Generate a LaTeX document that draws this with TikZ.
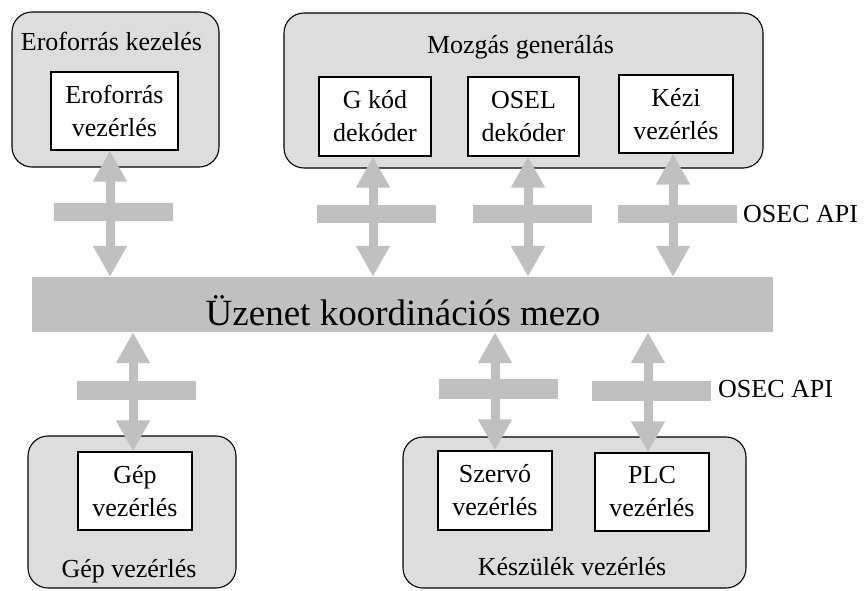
\documentclass[tikz,border=0pt]{standalone}
\usepackage{fontspec}
\setmainfont{Liberation Serif}
\usetikzlibrary{arrows.meta}
\definecolor{busgray}{HTML}{C0C0C0}
\definecolor{boxgray}{HTML}{DDDDDD}
\begin{document}
\begin{tikzpicture}[x=1pt,y=-1pt,
  txt/.style={font=\fontsize{26}{33}\selectfont},
  group/.style={draw=black,line width=1.1pt,fill=boxgray,rounded corners=20pt,inner sep=0pt},
  unit/.style={draw=black,line width=1.3pt,fill=white,inner sep=0pt,align=center,txt},
  bus/.style={fill=busgray,inner sep=0pt,font=\fontsize{37}{44}\selectfont},
  apibar/.style={fill=busgray,inner sep=0pt,minimum width=119pt,minimum height=18pt},
  flow/.style={draw=busgray,line width=9pt,
    {Triangle[width=32pt,length=31pt]}-{Triangle[width=32pt,length=31pt]}},
  lbl/.style={txt,inner sep=0pt}]
\useasboundingbox (0,0) rectangle (866,590);

% outer groups
\node[group,minimum width=207pt,minimum height=155pt] (gEro) at (115.5,89.5) {};
\node[group,minimum width=479pt,minimum height=155pt] (gMoz) at (523.5,90.5) {};
\node[group,minimum width=208pt,minimum height=152pt] (gGep) at (132,512) {};
\node[group,minimum width=343pt,minimum height=151pt] (gKesz) at (574.5,512.5) {};

\node[lbl,anchor=base] (tEro) at (111.5,50) {Eroforrás kezelés};
\node[lbl,anchor=base] (tMoz) at (520.5,53) {Mozgás generálás};
\node[lbl,anchor=base] (tGep) at (129,577) {Gép vezérlés};
\node[lbl,anchor=base] (tKesz) at (572,575) {Készülék vezérlés};

% message bus
\node[bus,minimum width=741pt,minimum height=55pt] (bus) at (402.5,304.5) {};
\node[bus,fill=none,anchor=base] (busText) at (403,325) {Üzenet koordinációs mezo};

% functional units
\node[unit,minimum width=127pt,minimum height=78pt] (uEro) at (114.5,111) {Eroforrás\\vezérlés};
\node[unit,minimum width=112pt,minimum height=79pt] (uGkod) at (375,116.5) {G kód\\dekóder};
\node[unit,minimum width=111pt,minimum height=79pt] (uOsel) at (523.5,116.5) {OSEL\\dekóder};
\node[unit,minimum width=114pt,minimum height=78pt] (uKezi) at (676,114) {Kézi\\vezérlés};
\node[unit,minimum width=114pt,minimum height=78pt] (uGep) at (135,491) {Gép\\vezérlés};
\node[unit,minimum width=114pt,minimum height=79pt] (uSzervo) at (495,490.5) {Szervó\\vezérlés};
\node[unit,minimum width=114pt,minimum height=78pt] (uPlc) at (652,492) {PLC\\vezérlés};

% OSEC API interface bars
\node[apibar] (bEro) at (113.5,212) {};
\node[apibar] (bGkod) at (376,214) {};
\node[apibar] (bOsel) at (532,214) {};
\node[apibar] (bKezi) at (677.5,214) {};
\node[apibar,minimum height=19pt] (bGep) at (136.5,390.5) {};
\node[apibar,minimum height=20pt] (bSzervo) at (498.5,389) {};
\node[apibar,minimum height=20pt] (bPlc) at (651.5,391) {};

\node[lbl,anchor=base west] (api1) at (743,222) {OSEC API};
\node[lbl,anchor=base west] (api2) at (718,397) {OSEC API};

% message flows between units and the bus
\draw[flow] ([xshift=-4.5pt]uEro.south) -- ([xshift=-4.5pt]uEro.south |- bus.north);
\draw[flow] ([xshift=-2pt]uGkod.south) -- ([xshift=-2pt]uGkod.south |- bus.north);
\draw[flow] ([xshift=4.5pt]uOsel.south) -- ([xshift=4.5pt]uOsel.south |- bus.north);
\draw[flow] ([xshift=-3pt]uKezi.south) -- ([xshift=-3pt]uKezi.south |- bus.north);
\draw[flow] ([xshift=-2pt]uGep.north |- bus.south) -- ([xshift=-2pt]uGep.north);
\draw[flow] (uSzervo.north |- bus.south) -- (uSzervo.north);
\draw[flow] ([xshift=-4pt]uPlc.north |- bus.south) -- ([xshift=-4pt]uPlc.north);
\end{tikzpicture}
\end{document}
